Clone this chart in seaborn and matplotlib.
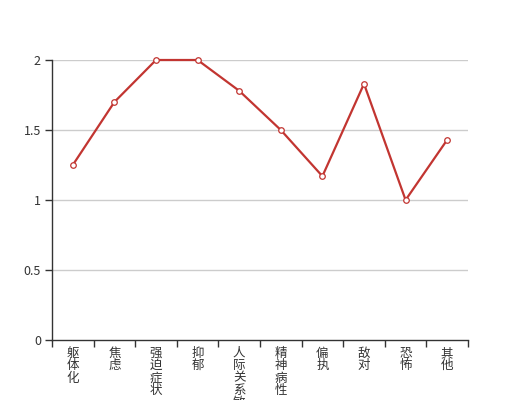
import matplotlib
matplotlib.use("Agg")
import matplotlib.pyplot as plt
import seaborn as sns
import pandas as pd
import numpy as np

categories = ["躯体化", "焦虑", "强迫症状", "抑郁", "人际关系敏感", "精神病性", "偏执", "敌对", "恐怖", "其他"]
values = [1.25, 1.70, 2.00, 2.00, 1.78, 1.50, 1.17, 1.83, 1.00, 1.43]
y_ticks = [0, 0.5, 1, 1.5, 2]
y_tick_labels = ["0", "0.5", "1", "1.5", "2"]

sns.set_style("white")
plt.rcParams['font.family'] = ['Noto Sans CJK SC', 'DejaVu Sans']

df = pd.DataFrame({"x": np.arange(len(categories)), "y": values})

fig = plt.figure(figsize=(5.2, 4.0), dpi=100)
ax = fig.add_axes([0.1, 0.15, 0.8, 0.70])

for yv in y_ticks[1:]:
    ax.axhline(yv, color="#cccccc", lw=1, zorder=0)

sns.lineplot(data=df, x="x", y="y", ax=ax, color="#c23531", lw=1.6,
             marker="o", markersize=4, markerfacecolor="white",
             markeredgecolor="#c23531", markeredgewidth=0.9, zorder=3,
             clip_on=False)

ax.set_xlim(-0.5, len(categories) - 0.5)
ax.set_ylim(0, 2)
ax.set_yticks(y_ticks)
ax.set_yticklabels(y_tick_labels, fontsize=9, color="#333333")
ax.set_xticks(np.arange(-0.5, len(categories)), labels=[])
ax.set_xticks(np.arange(len(categories)), minor=True)
ax.set_xticklabels(["\n".join(c) for c in categories], minor=True,
                   fontsize=9, color="#333333", linespacing=0.93, va="top")
ax.tick_params(axis="x", which="major", bottom=True, length=5, width=1, color="#333333", direction="out")
ax.tick_params(axis="x", which="minor", bottom=True, length=0, pad=5)
ax.tick_params(axis="y", left=True, length=5, width=1, color="#333333", direction="out", pad=3)
ax.set_xlabel("")
ax.set_ylabel("")

for s in ["top", "right"]:
    ax.spines[s].set_visible(False)
for s in ["left", "bottom"]:
    ax.spines[s].set_color("#333333")
    ax.spines[s].set_linewidth(1)

fig.savefig("out.png", dpi=100)
